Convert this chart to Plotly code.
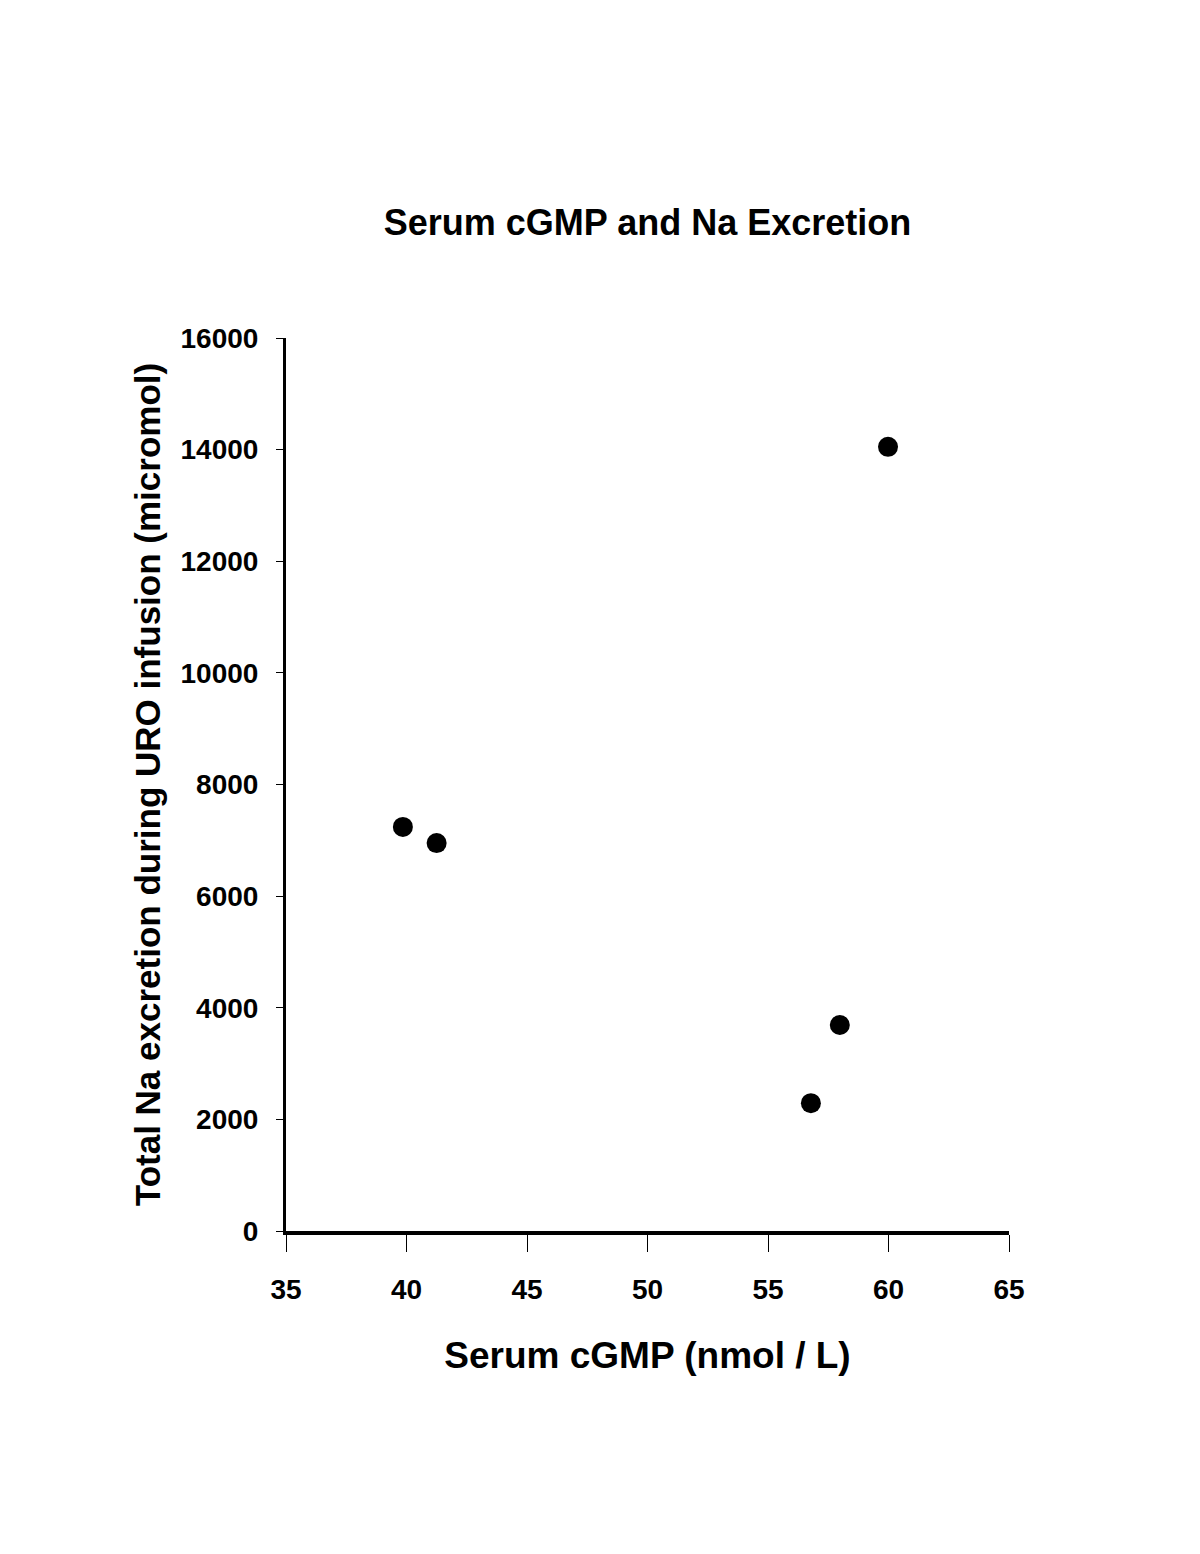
import plotly.graph_objects as go

# data
serum_cgmp = [39.85, 41.25, 59.98, 57.98, 56.78]
na_excretion = [7240, 6950, 14050, 3690, 2290]

x_ticks = [35, 40, 45, 50, 55, 60, 65]
y_ticks = [0, 2000, 4000, 6000, 8000, 10000, 12000, 14000, 16000]

font_family = "Liberation Sans, Arial, sans-serif"

fig = go.Figure()

fig.add_trace(go.Scatter(
    x=serum_cgmp,
    y=na_excretion,
    mode="markers",
    marker=dict(size=20, color="black", symbol="circle"),
    showlegend=False,
    cliponaxis=False,
))

fig.update_layout(
    width=1200,
    height=1554,
    paper_bgcolor="white",
    plot_bgcolor="white",
    margin=dict(l=278, r=199, t=330, b=331),
    title=dict(
        text="<b>Serum cGMP and Na Excretion</b>",
        font=dict(family=font_family, size=36, color="black"),
        x=0.5, xref="paper", xanchor="center",
        y=1 - 214 / 1554, yref="container", yanchor="middle",
    ),
    font=dict(family=font_family, color="black"),
)

fig.update_xaxes(
    range=[35, 65],
    tickvals=x_ticks,
    ticktext=[f"<b>{v}</b>" for v in x_ticks],
    tickfont=dict(size=28),
    ticks="outside", ticklen=17, tickwidth=1, tickcolor="black",
    ticklabelstandoff=13,
    showline=True, linewidth=4, linecolor="black",
    showgrid=False, zeroline=False,
    title=dict(text="<b>Serum cGMP (nmol / L)</b>", font=dict(size=37), standoff=40),
)

fig.update_yaxes(
    range=[0, 16000],
    tickvals=y_ticks,
    ticktext=[f"<b>{v}</b>" for v in y_ticks],
    tickfont=dict(size=28),
    ticks="outside", ticklen=7, tickwidth=1, tickcolor="black",
    ticklabelstandoff=12,
    showline=True, linewidth=3, linecolor="black",
    showgrid=False, zeroline=False,
    title=dict(text="<b>Total Na excretion during URO infusion (micromol)</b>",
               font=dict(size=35), standoff=10),
)

fig.write_html("out.html")
